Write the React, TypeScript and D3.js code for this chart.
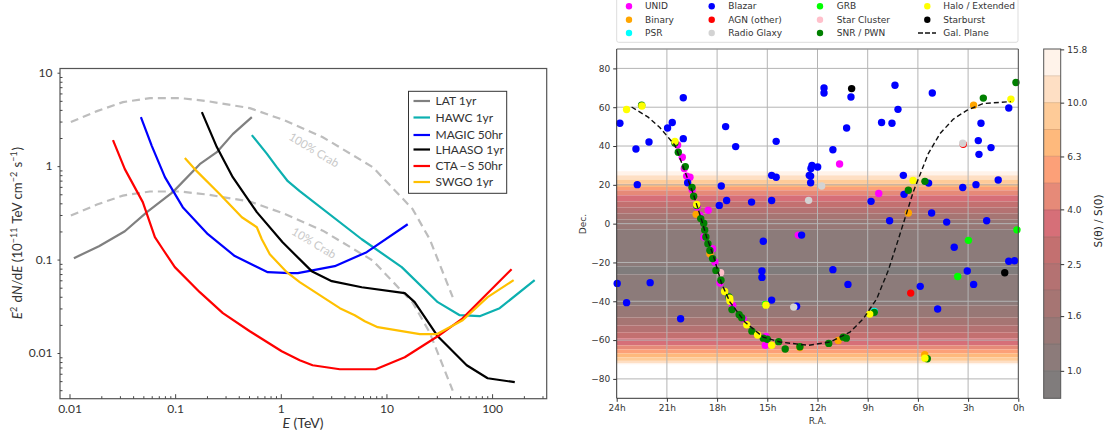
import React, { useEffect, useRef } from 'react';
import * as d3 from 'd3';

// ==== left panel: sensitivity curves, [E in TeV, flux]

const latCurve = [[0.011, 0.1035], [0.019, 0.139], [0.0334, 0.201], [0.054, 0.322], [0.095, 0.527], [0.171, 1.05], [0.248, 1.41], [0.351, 2.2], [0.532, 3.35]];
const hawcCurve = [[0.532, 2.15], [0.737, 1.36], [0.916, 0.975], [1.165, 0.69], [1.51, 0.54], [5.84, 0.165], [13.96, 0.083], [30.6, 0.035], [49.4, 0.0254], [76.3, 0.0248], [118, 0.0302], [253, 0.0602]];
const magicCurve = [[0.0474, 3.35], [0.0602, 1.64], [0.08, 0.762], [0.118, 0.364], [0.204, 0.187], [0.367, 0.109], [0.753, 0.0733], [1.216, 0.0715], [1.45, 0.0715], [3.24, 0.085], [6.5, 0.12], [15.9, 0.239]];
const lhaasoCurve = [[0.179, 3.78], [0.248, 1.6], [0.351, 0.762], [0.593, 0.322], [1.04, 0.153], [1.96, 0.0752], [3.04, 0.0587], [5.84, 0.0506], [14.9, 0.0437], [18.5, 0.035], [30.6, 0.0151], [57.5, 0.0074], [90.8, 0.00537], [164, 0.00487]];
const ctaCurve = [[0.0258, 1.9], [0.0334, 0.929], [0.0494, 0.412], [0.0643, 0.174], [0.0765, 0.129], [0.0993, 0.083], [0.171, 0.0448], [0.283, 0.0267], [0.509, 0.0171], [1.02, 0.01045], [1.51, 0.00838], [2.0, 0.0074], [3.62, 0.0067], [7.92, 0.0067], [14.9, 0.009], [30.6, 0.0151], [51.5, 0.023], [153, 0.0789]];
const swgoCurve = [[0.1235, 1.22], [0.16, 0.884], [0.265, 0.501], [0.428, 0.284], [0.593, 0.222], [0.661, 0.165], [0.787, 0.114], [1.14, 0.0733], [1.51, 0.0573], [3.62, 0.0302], [5.01, 0.0254], [6.24, 0.0219], [8.27, 0.0189], [20.7, 0.0159], [29.9, 0.0159], [52.7, 0.0224], [90.8, 0.0396], [160, 0.0602]];
const crab100 = [[0.0103, 2.96], [0.0182, 3.88], [0.032, 4.84], [0.0577, 5.35], [0.111, 5.35], [0.2, 4.97], [0.509, 4.18], [1.07, 3.11], [2.5, 2.04], [7.42, 0.975], [17.7, 0.347], [25.7, 0.165], [42.4, 0.0396]];
const crab10 = [[0.0103, 0.296], [0.0182, 0.388], [0.032, 0.484], [0.0577, 0.535], [0.111, 0.535], [0.2, 0.497], [0.509, 0.418], [1.07, 0.311], [2.5, 0.204], [7.42, 0.0975], [17.7, 0.0347], [25.7, 0.0165], [42.4, 0.00396]];

const instruments = [
    { name: 'LAT 1yr', color: '#808080', curve: latCurve, ly: 101 },
    { name: 'HAWC 1yr', color: '#0cb0b0', curve: hawcCurve, ly: 117.5 },
    { name: 'MAGIC 50hr', color: '#0000ff', curve: magicCurve, ly: 135 },
    { name: 'LHAASO 1yr', color: '#000000', curve: lhaasoCurve, ly: 149.5 },
    { name: 'CTA\u2009\u2212\u2009S 50hr', color: '#ff0000', curve: ctaCurve, ly: 166 },
    { name: 'SWGO 1yr', color: '#ffc000', curve: swgoCurve, ly: 182 },
];

const energyTicks = [0.01, 0.1, 1, 10, 100];
const fluxTicks = [0.01, 0.1, 1, 10];

// ==== right panel: sources, [R.A. in hours, Dec. in degrees]

const unid = [[20.36, 40.5], [20.08, 34.2], [19.96, 28.4], [19.82, 24.5], [19.62, 23.9], [19.49, 17.5], [19.19, 8.6], [18.53, 6.9], [13.15, -5.9], [10.68, 30.7], [8.34, 15.5], [18.27, -12.9], [18.13, -19.8], [18.79, -6.9], [17.83, -30.6], [17.07, -42.1], [16.44, -49], [15.12, -62.7], [15.08, -58.1], [19.03, 4.3]];
const binary = [[19.25, 4.8], [18.43, -15.5], [13.05, -63.8], [10.76, -60.2], [5.59, -67.5], [6.57, 5.5], [2.67, 61]];
const psr = [[8.61, -45.2]];
const blazar = [[23.81, 51.7], [22.85, 38.5], [22.77, 20.1], [22.07, 42.1], [20.96, 49.3], [20.68, 52.1], [20.02, 64.9], [20.02, 43.8], [19.76, 21.1], [17.49, 50], [16.89, 39.7], [14.47, 42.4], [14.74, 24.9], [14.47, 23.9], [17.75, 19.4], [17.87, 9.4], [17.43, 11.9], [15.94, 11.1], [14.74, 11.9], [12.95, -5.9], [12.33, 30], [12.39, 28.4], [11.99, 29.2], [12.49, 24.9], [12.41, 24.5], [12.41, 21.1], [11.61, 69.9], [11.61, 67.3], [10, 65.3], [7.37, 71.3], [5.14, 67.3], [7.19, 58.9], [10.26, 49.3], [8.17, 52.1], [7.55, 51.7], [11.08, 38.1], [2.23, 51.7], [0.57, 59.6], [2.39, 42.8], [2.35, 35.7], [1.63, 39.2], [6.87, 24.9], [5.36, 20.9], [3.32, 18.6], [2.53, 20.1], [1.2, 22.5], [6.83, 15.1], [8.8, 11.5], [5.18, 5.5], [7.69, 1.5], [4.28, 0.8], [1.89, 1.5], [23.97, -30.8], [23.41, -40.7], [22, -30.4], [20.18, -49], [15.24, -9.1], [15.32, -24.4], [15.32, -27.7], [14.74, -39.4], [13.25, -42.6], [11.08, -23.7], [10.18, -31.3], [5.86, -32.3], [4.82, -44], [3.83, -12.2], [3.05, -24.4], [2.67, -31.3], [0.57, -19.4], [0.22, -19.1]];
const agnOther = [[6.43, -35.8], [3.29, 40.9]];
const radioGalaxy = [[3.32, 41.4], [11.75, 19.4], [12.53, 12], [13.42, -43]];
const grb = [[2.98, -8.6], [3.62, -27.2], [0.08, -3.2], [15.11, -41.6]];
const starCluster = [[17.79, -25.3]];
const snrPwn = [[22.51, 61], [20.52, 41.5], [20.32, 36.8], [19.9, 29.4], [19.5, 18.7], [19.4, 14.1], [19.22, 9.4], [18.98, 2.6], [18.8, 0.2], [18.74, -3.3], [18.67, -6.9], [18.55, -10.3], [18.43, -13.8], [18.27, -18], [18.07, -24.1], [17.77, -29.2], [17.29, -37.8], [17.11, -44.3], [16.68, -46.9], [16.53, -48.5], [15.92, -55.4], [15.24, -59], [15, -59.6], [14.32, -60.8], [13.93, -64.6], [13.05, -63.4], [11.33, -61.7], [10.46, -58.5], [10.28, -59], [8.61, -45.7], [5.44, -69.6], [6.57, 17.2], [5.58, 21.8], [2.09, 64.7], [0.14, 72.7]];
const halo = [[23.41, 58.8], [22.49, 60.6], [20.52, 42.4], [19.22, 9.9], [17.55, -35], [17.25, -38.4], [17.23, -39.9], [16.23, -52.1], [15.58, -57.4], [14.74, -62.7], [15.08, -42], [8.88, -46.6], [5.58, -69.3], [6.29, 22.3], [0.44, 64.1]];
const starburst = [[9.96, 69.6], [0.81, -25.3]];
const galPlane = [[23.11, 60.1], [22.12, 54.9], [21.42, 49.5], [20.52, 40.4], [20.02, 29.2], [19.43, 15.5], [18.92, 1.7], [18.63, -6.9], [18.23, -16.3], [17.73, -30.9], [17.23, -40.4], [16.34, -50.7], [15.24, -58.5], [14.24, -61], [12.55, -62.7], [11.26, -61], [10.06, -55.9], [9.26, -49], [8.46, -38.7], [7.77, -24.1], [7.17, -8.1], [6.28, 16.3], [5.38, 36.1], [4.68, 46.4], [3.89, 53.8], [3.08, 58.4], [2.09, 61.9], [0.45, 62.9]];

// draw order is not legend order, green and yellow sit on top
const sourceClasses = [
    { name: 'UNID', color: '#ff00ff', points: unid, col: 0, row: 0, z: 0 },
    { name: 'Binary', color: '#ffa500', points: binary, col: 0, row: 1, z: 1 },
    { name: 'PSR', color: '#00ffff', points: psr, col: 0, row: 2, z: 2 },
    { name: 'Blazar', color: '#0000ff', points: blazar, col: 1, row: 0, z: 3 },
    { name: 'AGN (other)', color: '#ff0000', points: agnOther, col: 1, row: 1, z: 4 },
    { name: 'Radio Glaxy', color: '#d3d3d3', points: radioGalaxy, col: 1, row: 2, z: 5 },
    { name: 'GRB', color: '#00ff00', points: grb, col: 2, row: 0, z: 6 },
    { name: 'Star Cluster', color: '#ffc0cb', points: starCluster, col: 2, row: 1, z: 7 },
    { name: 'SNR / PWN', color: '#008000', points: snrPwn, col: 2, row: 2, z: 8 },
    { name: 'Halo / Extended', color: '#ffff00', points: halo, col: 3, row: 0, z: 9 },
    { name: 'Starburst', color: '#000000', points: starburst, col: 3, row: 1, z: 10 },
];

const raTicks = [24, 21, 18, 15, 12, 9, 6, 3, 0];
const decTicks = [80, 60, 40, 20, 0, -20, -40, -60, -80];

// exposure bands across declination, each band index points into levelColors
const bandEdges = [27, 24.9, 22.7, 20.6, 18.9, 17.2, 14.6, 11.5, 8.4, 5.3, 2.2, -2.9, -22, -26.1, -42.1, -48.3, -52.4, -56, -59.1, -62.7, -64.8, -66.9, -68.9, -70.7, -71.8, -72.5];
const bandLevels = [12, 11, 10, 9, 8, 7, 6, 5, 4, 3, 2, 1, 0, 1, 2, 3, 4, 5, 6, 7, 8, 9, 10, 11, 12];
const levelBounds = [0.79, 1.0, 1.26, 1.58, 2.0, 2.51, 3.16, 3.98, 5.01, 6.31, 7.94, 10, 12.59, 15.85];
const levelColors = ['#807c7c', '#8c7b7a', '#987876', '#a67573', '#b47272', '#c37070', '#d66f78', '#e68a78', '#fca078', '#feb97c', '#fecb98', '#fedfc4', '#fff3ea'];
const levelTicks = [1.0, 1.6, 2.5, 4.0, 6.3, 10.0, 15.8];

// ====

const MATH_FONT = 'Lato, sans-serif';
const PLOT_FONT = '"DejaVu Sans", sans-serif';

function drawSensitivity(svg) {
    const x = d3.scaleLog().domain([10 ** -2.09, 10 ** 2.517]).range([60, 546.7]);
    const y = d3.scaleLog().domain([10 ** 1.045, 10 ** -2.489]).range([68.5, 398.7]);
    const line = d3.line().x((d) => x(d[0])).y((d) => y(d[1]));

    const g = svg.append('g');

    [crab100, crab10].forEach((curve) => {
        g.append('path')
            .attr('d', line(curve))
            .attr('fill', 'none')
            .attr('stroke', '#bdbdbd')
            .attr('stroke-width', 2.2)
            .attr('stroke-dasharray', '8 5');
    });

    instruments.forEach((inst) => {
        g.append('path')
            .attr('d', line(inst.curve))
            .attr('fill', 'none')
            .attr('stroke', inst.color)
            .attr('stroke-width', 2.2)
            .attr('stroke-linejoin', 'round');
    });

    [['100% Crab', 314, 150], ['10% Crab', 314, 243]].forEach(([label, px, py]) => {
        g.append('text')
            .attr('transform', `translate(${px},${py}) rotate(31)`)
            .attr('text-anchor', 'middle')
            .attr('dy', '0.35em')
            .attr('font-family', MATH_FONT)
            .attr('font-size', 11.5)
            .attr('fill', '#c8c8c8')
            .text(label);
    });

    // frame
    g.append('rect')
        .attr('x', 60).attr('y', 68.5)
        .attr('width', 486.7).attr('height', 330.2)
        .attr('fill', 'none')
        .attr('stroke', '#555')
        .attr('stroke-width', 1.2);

    const minorX = d3.range(-2, 3).flatMap((e) => d3.range(2, 10).map((m) => m * 10 ** e)).filter((v) => v < 10 ** 2.517);
    const minorY = d3.range(-3, 1).flatMap((e) => d3.range(2, 10).map((m) => m * 10 ** e)).filter((v) => v > 10 ** -2.489);

    const bottom = g.append('g').attr('transform', 'translate(0,398.7)');
    bottom.call(d3.axisBottom(x).tickValues(minorX).tickSize(-2.5).tickFormat(() => ''));
    const bottomMajor = g.append('g').attr('transform', 'translate(0,398.7)');
    bottomMajor.call(d3.axisBottom(x).tickValues(energyTicks).tickSize(-4.5).tickPadding(6).tickFormat((d) => String(d)));

    const left = g.append('g').attr('transform', 'translate(60,0)');
    left.call(d3.axisLeft(y).tickValues(minorY).tickSize(-2.5).tickFormat(() => ''));
    const leftMajor = g.append('g').attr('transform', 'translate(60,0)');
    leftMajor.call(d3.axisLeft(y).tickValues(fluxTicks).tickSize(2.5).tickPadding(5).tickFormat((d) => String(d)));

    [bottom, bottomMajor, left, leftMajor].forEach((a) => {
        a.select('.domain').remove();
        a.selectAll('line').attr('stroke', '#444');
        a.selectAll('text')
            .attr('font-family', MATH_FONT)
            .attr('font-size', 12)
            .attr('fill', '#333');
    });

    const xLabel = g.append('text')
        .attr('x', 303).attr('y', 428)
        .attr('text-anchor', 'middle')
        .attr('font-family', MATH_FONT)
        .attr('font-size', 14)
        .attr('fill', '#333');
    xLabel.append('tspan').attr('font-style', 'italic').text('E');
    xLabel.append('tspan').text(' (TeV)');

    const yLabel = g.append('text')
        .attr('transform', 'translate(22,233) rotate(-90)')
        .attr('text-anchor', 'middle')
        .attr('font-family', MATH_FONT)
        .attr('font-size', 13.3)
        .attr('fill', '#333');
    const sup = (s) => {
        yLabel.append('tspan').attr('font-size', 9).attr('dy', -5).text(s);
        yLabel.append('tspan').attr('dy', 5).text('\u200a');
    };
    yLabel.append('tspan').attr('font-style', 'italic').text('E');
    sup('2');
    yLabel.append('tspan').text(' d');
    yLabel.append('tspan').attr('font-style', 'italic').text('N');
    yLabel.append('tspan').text('/d');
    yLabel.append('tspan').attr('font-style', 'italic').text('E');
    yLabel.append('tspan').text(' (10');
    sup('\u221211');
    yLabel.append('tspan').text(' TeV cm');
    sup('\u22122');
    yLabel.append('tspan').text(' s');
    sup('\u22121');
    yLabel.append('tspan').text(')');

    // legend
    g.append('rect')
        .attr('x', 408.5).attr('y', 91.3)
        .attr('width', 98.2).attr('height', 102)
        .attr('fill', '#fff')
        .attr('stroke', '#333')
        .attr('stroke-width', 1);

    const rows = g.selectAll('.legend-row')
        .data(instruments)
        .enter()
        .append('g')
        .attr('class', 'legend-row')
        .attr('transform', (d) => `translate(0,${d.ly})`);
    rows.append('line')
        .attr('x1', 413.5).attr('x2', 430)
        .attr('stroke', (d) => d.color)
        .attr('stroke-width', 2.2);
    rows.append('text')
        .attr('x', 435.5)
        .attr('dy', '0.35em')
        .attr('font-family', MATH_FONT)
        .attr('font-size', 12)
        .attr('fill', '#333')
        .text((d) => d.name);
}

function drawSkyMap(svg) {
    const x = d3.scaleLinear().domain([24, 0]).range([616.7, 1018.3]);
    const y = d3.scaleLinear().domain([90, -90]).range([49, 398.3]);
    const line = d3.line().x((d) => x(d[0])).y((d) => y(d[1]));

    const g = svg.append('g');

    // exposure bands
    g.selectAll('.band')
        .data(bandLevels)
        .enter()
        .append('rect')
        .attr('class', 'band')
        .attr('x', x(24))
        .attr('width', x(0) - x(24))
        .attr('y', (d, i) => y(bandEdges[i]))
        .attr('height', (d, i) => y(bandEdges[i + 1]) - y(bandEdges[i]))
        .attr('fill', (d) => levelColors[d]);

    // grid
    g.selectAll('.vgrid')
        .data(raTicks.slice(1, -1))
        .enter()
        .append('line')
        .attr('x1', (d) => x(d)).attr('x2', (d) => x(d))
        .attr('y1', 49).attr('y2', 398.3)
        .attr('stroke', '#b4b4b4')
        .attr('stroke-width', 1);
    g.selectAll('.hgrid')
        .data(decTicks)
        .enter()
        .append('line')
        .attr('y1', (d) => y(d)).attr('y2', (d) => y(d))
        .attr('x1', 616.7).attr('x2', 1018.3)
        .attr('stroke', '#b4b4b4')
        .attr('stroke-width', 1);

    // sources
    d3.sort(sourceClasses, (d) => d.z).forEach((cls) => {
        g.append('g')
            .selectAll('circle')
            .data(cls.points)
            .enter()
            .append('circle')
            .attr('cx', (d) => x(d[0]))
            .attr('cy', (d) => y(d[1]))
            .attr('r', 3.7)
            .attr('fill', cls.color);
    });

    g.append('path')
        .attr('d', line(galPlane))
        .attr('fill', 'none')
        .attr('stroke', '#111')
        .attr('stroke-width', 1.4)
        .attr('stroke-dasharray', '5 3');

    // frame
    g.append('line').attr('x1', 616.7).attr('x2', 1018.3).attr('y1', 49).attr('y2', 49).attr('stroke', '#999').attr('stroke-width', 1.5);
    g.append('line').attr('x1', 616.7).attr('x2', 1018.3).attr('y1', 398.3).attr('y2', 398.3).attr('stroke', '#333').attr('stroke-width', 1);
    g.append('line').attr('x1', 616.7).attr('x2', 616.7).attr('y1', 49).attr('y2', 398.3).attr('stroke', '#333').attr('stroke-width', 1);
    g.append('line').attr('x1', 1018.3).attr('x2', 1018.3).attr('y1', 49).attr('y2', 398.3).attr('stroke', '#444').attr('stroke-width', 1);

    const bottom = g.append('g').attr('transform', 'translate(0,398.3)');
    bottom.call(d3.axisBottom(x).tickValues(raTicks).tickSize(3.5).tickPadding(3).tickFormat((d) => `${d}h`));
    const left = g.append('g').attr('transform', 'translate(616.7,0)');
    left.call(d3.axisLeft(y).tickValues(decTicks).tickSize(3.5).tickPadding(3).tickFormat((d) => String(d).replace('-', '\u2212')));

    [bottom, left].forEach((a) => {
        a.select('.domain').remove();
        a.selectAll('line').attr('stroke', '#333');
        a.selectAll('text')
            .attr('font-family', PLOT_FONT)
            .attr('font-size', 9)
            .attr('fill', '#333');
    });

    g.append('text')
        .attr('x', 817.5).attr('y', 424)
        .attr('text-anchor', 'middle')
        .attr('font-family', PLOT_FONT)
        .attr('font-size', 9)
        .attr('fill', '#333')
        .text('R.A.');
    g.append('text')
        .attr('transform', 'translate(586,224) rotate(-90)')
        .attr('text-anchor', 'middle')
        .attr('font-family', PLOT_FONT)
        .attr('font-size', 9)
        .attr('fill', '#333')
        .text('Dec.');

    // legend, its top runs off the page
    g.append('rect')
        .attr('x', 616.7).attr('y', -10)
        .attr('width', 401.3).attr('height', 52.3)
        .attr('rx', 2)
        .attr('fill', '#fff')
        .attr('stroke', '#ddd')
        .attr('stroke-width', 1);

    const markerX = [629, 711.7, 820, 927.3];
    const textX = [645, 728.3, 836.7, 943.3];
    const rowY = [6.3, 19.8, 33];

    sourceClasses.forEach((cls) => {
        g.append('circle')
            .attr('cx', markerX[cls.col])
            .attr('cy', rowY[cls.row])
            .attr('r', 3.2)
            .attr('fill', cls.color);
        g.append('text')
            .attr('x', textX[cls.col])
            .attr('y', rowY[cls.row])
            .attr('dy', '0.35em')
            .attr('font-family', PLOT_FONT)
            .attr('font-size', 9)
            .attr('fill', '#333')
            .text(cls.name);
    });
    g.append('line')
        .attr('x1', 918).attr('x2', 936)
        .attr('y1', rowY[2]).attr('y2', rowY[2])
        .attr('stroke', '#111')
        .attr('stroke-width', 1.4)
        .attr('stroke-dasharray', '5 2');
    g.append('text')
        .attr('x', textX[3])
        .attr('y', rowY[2])
        .attr('dy', '0.35em')
        .attr('font-family', PLOT_FONT)
        .attr('font-size', 9)
        .attr('fill', '#333')
        .text('Gal. Plane');
}

function drawColorbar(svg) {
    const c = d3.scaleLog().domain([0.79, 15.85]).range([398.3, 49]);
    const g = svg.append('g');

    g.selectAll('rect')
        .data(levelColors)
        .enter()
        .append('rect')
        .attr('x', 1043.7)
        .attr('width', 17)
        .attr('y', (d, i) => c(levelBounds[i + 1]))
        .attr('height', (d, i) => c(levelBounds[i]) - c(levelBounds[i + 1]))
        .attr('fill', (d) => d);

    g.selectAll('.level-line')
        .data(levelBounds.slice(1, -1))
        .enter()
        .append('line')
        .attr('x1', 1043.7).attr('x2', 1060.7)
        .attr('y1', (d) => c(d)).attr('y2', (d) => c(d))
        .attr('stroke', (d, i) => d3.color(levelColors[i]).darker(0.4).formatHex())
        .attr('stroke-width', 0.8);

    g.append('rect')
        .attr('x', 1043.7).attr('y', 49)
        .attr('width', 17).attr('height', 349.3)
        .attr('fill', 'none')
        .attr('stroke', '#555')
        .attr('stroke-width', 1);

    const axis = g.append('g').attr('transform', 'translate(1060.7,0)');
    axis.call(d3.axisRight(c).tickValues(levelTicks).tickSize(3.5).tickPadding(3).tickFormat((d) => d.toFixed(1)));
    axis.select('.domain').remove();
    axis.selectAll('line').attr('stroke', '#333');
    axis.selectAll('text')
        .attr('font-family', PLOT_FONT)
        .attr('font-size', 9)
        .attr('fill', '#333');

    g.append('text')
        .attr('transform', 'translate(1098.5,221) rotate(-90)')
        .attr('text-anchor', 'middle')
        .attr('dy', '0.35em')
        .attr('font-family', PLOT_FONT)
        .attr('font-size', 10.5)
        .attr('fill', '#222')
        .text('S(\u03b8) / S(0)');
}

// ====

export default function App() {
    const node = useRef(null);

    useEffect(() => {
        const svg = d3.select(node.current);
        svg.selectAll('*').remove();
        drawSensitivity(svg);
        drawSkyMap(svg);
        drawColorbar(svg);
    }, []);

    return (
        <svg
            ref={node}
            width={1105}
            height={439}
            style={{ position: 'absolute', left: 0, top: 0, background: '#fff' }}>
        </svg>
    );
}
